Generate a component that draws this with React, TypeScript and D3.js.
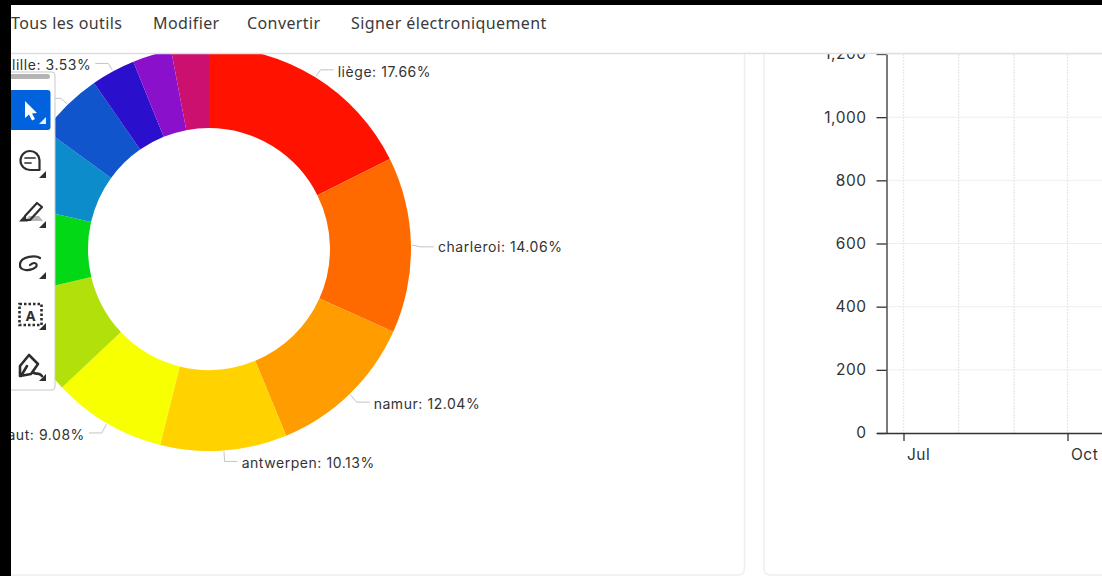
import React, { useEffect, useRef } from "react";
import * as d3 from "d3";

const W = 1102, H = 576;
const labels = ["liège", "charleroi", "namur", "antwerpen", "hainaut", "", "", "", "", "lille", "", ""];
const shares = [17.66, 14.06, 12.04, 10.13, 9.08, 8.33, 7.28, 6.42, 5.36, 3.53, 3.11, 3.0];
const colors = ["#ff1200", "#ff6a00", "#ff9c00", "#ffd200", "#f8ff00", "#b2e00a", "#02d816", "#0d8ccc", "#1055cc", "#2a10cc", "#8a10cc", "#cc1070"];
const leaderOnly = [8];
const yTicks = [0, 200, 400, 600, 800, 1000, 1200];
const menu = ["Tous les outils", "Modifier", "Convertir", "Signer électroniquement"];
const menuX = [11, 153, 247, 351];
const xStart = new Date(Date.UTC(2023, 5, 21));
const xEnd = new Date(Date.UTC(2023, 10, 1));
const monthTicks = [6, 7, 8, 9].map((m) => new Date(Date.UTC(2023, m, 1)));
const tickNames: Record<number, string> = { 6: "Jul", 9: "Oct" };

const uiFont = "'Noto Sans', sans-serif";
const chartFont = "Inter, sans-serif";

export default function App() {
  const ref = useRef<SVGSVGElement>(null);
  useEffect(() => {
    const svg = d3.select(ref.current!);
    svg.selectAll("*").remove();
    svg.append("rect").attr("width", W).attr("height", H).attr("fill", "#fff");

    // panel frames
    svg.append("path").attr("d", `M744.5 54V568Q744.5 575 738 575H11`).attr("fill", "none").attr("stroke", "#eeeeee").attr("stroke-width", 1.5);
    svg.append("path").attr("d", `M764 54V568Q764 575 771 575H${W}`).attr("fill", "none").attr("stroke", "#eeeeee").attr("stroke-width", 1.5);

    // donut
    const cx = 209, cy = 249, outer = 202, inner = 121;
    const g = svg.append("g").attr("transform", `translate(${cx},${cy})`);
    const pie = d3.pie<number>().sort(null).value((d) => d);
    const arcs = pie(shares);
    const arc = d3.arc<d3.PieArcDatum<number>>().innerRadius(inner).outerRadius(outer);
    g.selectAll("path.s").data(arcs).join("path").attr("class", "s").attr("d", arc as any).attr("fill", (_, i) => colors[i]);

    arcs.forEach((a, i) => {
      if (!labels[i] && !leaderOnly.includes(i)) return;
      const mid = (a.startAngle + a.endAngle) / 2;
      const px = (r: number) => r * Math.sin(mid);
      const py = (r: number) => -r * Math.cos(mid);
      const side = Math.sin(mid) >= 0 ? 1 : -1;
      const ex = px(212), ey = py(212) + (Math.abs(Math.sin(mid)) > 0.99 ? 2 : 1);
      g.append("path")
        .attr("d", d3.line()([[px(outer + 1), py(outer + 1)], [ex, ey], [ex + side * 13, ey]]) as string)
        .attr("fill", "none").attr("stroke", "#c4c4c4").attr("stroke-width", 1);
      if (labels[i]) {
        const isSideways = Math.abs(Math.sin(mid)) > 0.99;
        g.append("text").attr("x", ex + side * 17).attr("y", ey + (isSideways ? 1.5 : 3))
          .attr("dominant-baseline", "middle").attr("text-anchor", side > 0 ? "start" : "end")
          .attr("font-family", chartFont).attr("font-size", 14).attr("letter-spacing", 0.55).attr("fill", "#333")
          .text(`${labels[i]}: ${a.data.toFixed(2)}%`);
      }
    });

    // right chart
    const plotLeft = 886.5;
    const pxPerDay = 164 / 92;
    const x = d3.scaleUtc().domain([xStart, xEnd]).range([
      903.5 - (monthTicks[0].getTime() - xStart.getTime()) / 864e5 * pxPerDay,
      903.5 + (xEnd.getTime() - monthTicks[0].getTime()) / 864e5 * pxPerDay]);
    const y = d3.scaleLinear().domain([0, 1200]).range([433, 54]);
    const grid = svg.append("g");
    grid.selectAll("line.h").data(yTicks.slice(1)).join("line").attr("class", "h")
      .attr("x1", plotLeft).attr("x2", W).attr("y1", (d) => y(d)).attr("y2", (d) => y(d)).attr("stroke", "#efefef");
    grid.selectAll("line.v").data(monthTicks).join("line").attr("class", "v")
      .attr("x1", (d) => x(d)).attr("x2", (d) => x(d)).attr("y1", 54).attr("y2", 433)
      .attr("stroke", "#e8e8e8").attr("stroke-width", 1.3).attr("stroke-dasharray", "2 1");

    const yAxis = svg.append("g").attr("transform", `translate(${plotLeft},0)`)
      .call(d3.axisLeft(y).tickValues(yTicks).tickFormat(d3.format(",") as any).tickSize(10).tickPadding(10).tickSizeOuter(0));
    yAxis.selectAll("text").attr("font-family", chartFont).attr("font-size", 15.5).attr("letter-spacing", 0.5).attr("fill", "#333");
    yAxis.selectAll("line,path").attr("stroke", "#333").attr("stroke-width", 1.3);

    const xAxis = svg.append("g").attr("transform", `translate(0,433)`)
      .call(d3.axisBottom(x).tickValues(monthTicks).tickFormat(() => "").tickSize(8).tickSizeOuter(0));
    xAxis.select("path").attr("d", `M877,0.5H${W}`);
    xAxis.selectAll("line,path").attr("stroke", "#333").attr("stroke-width", 1.3);
    xAxis.selectAll<SVGLineElement, Date>(".tick line").attr("y2", (d) => (tickNames[d.getUTCMonth()] ? 8 : 0));
    xAxis.selectAll<SVGTextElement, Date>(".tick text")
      .attr("x", 3).attr("y", 15).attr("dy", "0.8em").attr("text-anchor", "start")
      .attr("font-family", chartFont).attr("font-size", 15.5).attr("letter-spacing", 0.5).attr("fill", "#333")
      .text((d) => tickNames[d.getUTCMonth()] ?? "");

    // top bar
    svg.append("rect").attr("x", 0).attr("y", 0).attr("width", W).attr("height", 53).attr("fill", "#fff");
    svg.append("line").attr("x1", 0).attr("x2", W).attr("y1", 53.5).attr("y2", 53.5).attr("stroke", "#dfdfdf").attr("stroke-width", 1.5);
    svg.selectAll("text.menu").data(menu).join("text").attr("class", "menu")
      .attr("x", (_, i) => menuX[i]).attr("y", 29).attr("letter-spacing", 0.4)
      .attr("font-family", uiFont).attr("font-size", 16).attr("fill", "#3a3a3a").text((d) => d);

    // floating toolbar
    const tb = svg.append("g");
    tb.append("rect").attr("x", 5).attr("y", 72).attr("width", 50).attr("height", 318).attr("rx", 3)
      .attr("fill", "#fff").attr("stroke", "#c9c9c9");
    tb.append("rect").attr("x", 6).attr("y", 74).attr("width", 44).attr("height", 5).attr("rx", 2.5).attr("fill", "#b4b4b4");
    tb.append("rect").attr("x", 5).attr("y", 90).attr("width", 45.5).attr("height", 40).attr("rx", 3).attr("fill", "#0062dc");
    tb.append("path").attr("d", "M25 101V118L29 114.5L32 120.5L35 119L32 113.5L37 113Z").attr("fill", "#fff");
    const dark = "#2e2e2e";
    const corners: [number, number, string][] = [[46, 124, "#e8f0ff"], [46, 178, dark], [46, 228, dark], [46, 279, dark], [46, 330, dark], [46, 381, dark]];
    corners.forEach(([cxx, cyy, c]) => tb.append("path").attr("d", `M${cxx} ${cyy}l-7 0l7 -7z`).attr("fill", c));
    const stroke = (d: string, w = 2.2) => tb.append("path").attr("d", d).attr("fill", "none").attr("stroke", dark).attr("stroke-width", w).attr("stroke-linecap", "round").attr("stroke-linejoin", "round");
    stroke("M30 151a9.5 9.5 0 1 0 0 19h9.5V160a9.5 9.5 0 0 0 -9.5 -9Z");
    stroke("M25 158H35M25 163H31", 1.7);
    tb.append("path").attr("d", "M25 221H43L39 216H29Z").attr("fill", "#b5b5b5");
    stroke("M25 216L37 203L42 207L30 220H25Z");
    tb.append("path").attr("d", "M19 221.5L24 216L28 221.5Z").attr("fill", dark);
    stroke("M40 258C36 255 21 256 20 264C19 271 30 272 36 267C38 264 35 261 30 265");
    tb.append("rect").attr("x", 19.5).attr("y", 304).attr("width", 22).attr("height", 21).attr("fill", "none").attr("stroke", dark).attr("stroke-width", 2.6).attr("stroke-dasharray", "2.5 2");
    tb.append("text").attr("x", 30.5).attr("y", 321).attr("text-anchor", "middle").attr("font-family", uiFont).attr("font-size", 14).attr("font-weight", 700).attr("fill", dark).text("A");
    stroke("M20 376L20 366L29 355L38 364L31 374ZM27 366L21 376M33 372C36 376 38 371 42 376", 2.6);

    // black frame
    svg.append("rect").attr("x", 0).attr("y", 0).attr("width", W).attr("height", 5).attr("fill", "#000");
    svg.append("rect").attr("x", 0).attr("y", 0).attr("width", 11).attr("height", H).attr("fill", "#000");
  }, []);
  return <svg ref={ref} width={W} height={H} style={{ position: "fixed", left: 0, top: 0, display: "block" }} />;
}
